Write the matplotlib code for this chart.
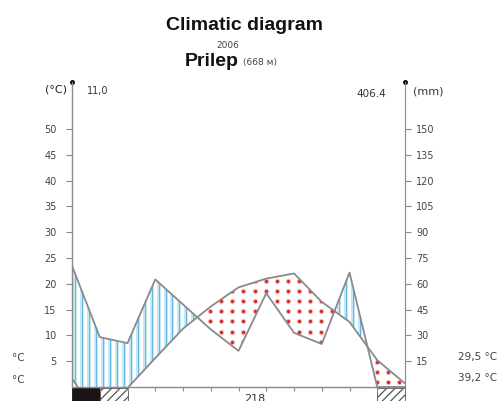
import numpy as np
import matplotlib.pyplot as plt
from matplotlib.patches import Rectangle
from matplotlib.path import Path

plt.rcParams['hatch.linewidth'] = 0.9

# values read at the month boundaries (13 points, Jan..Dec)
months = np.arange(13)
temp = np.array([1.6, -6.0, -0.2, 5.6, 11.3, 15.6, 19.3, 21.0, 22.0, 16.5, 12.6, 5.2, 0.7])
prec = np.array([70.5, 29.0, 25.5, 62.5, 48.0, 33.5, 21.0, 54.5, 31.5, 25.0, 66.5, 0.0, 0.0])
frost_months = [0]          # black box
frost_abs_months = [1, 11]  # hatched boxes
t_ticks = [5, 10, 15, 20, 25, 30, 35, 40, 45, 50]
p_ticks = [15, 30, 45, 60, 75, 90, 105, 120, 135, 150]
t_mean = "11,0"
p_total = "406.4"

ymax = 59.1
grey = '#8a8a8a'
p_sc = prec / 3.0

fig = plt.figure(figsize=(4.99, 4.01), dpi=100)
ax = fig.add_axes([72/499, 14/401, 333/499, 305/401])
ax.set_xlim(0, 12)
ax.set_ylim(0, ymax)

wet = ax.fill_between(months, temp, p_sc, where=p_sc >= temp, interpolate=True,
                      facecolor='white', edgecolor='none')
dry = ax.fill_between(months, temp, p_sc, where=temp >= p_sc, interpolate=True,
                      facecolor='white', edgecolor='none')
wet_path = Path.make_compound_path(*wet.get_paths())
dry_path = Path.make_compound_path(*dry.get_paths())

# vertical stripes for humid period
xs = np.arange(0.12, 12, 0.25)
s1 = ax.vlines(xs, -5, ymax, colors='#c4e7f6', lw=2.8)
s2 = ax.vlines(xs, -5, ymax, colors='#62b6de', lw=0.7)
for s in (s1, s2):
    s.set_clip_path(wet_path, ax.transData)

# red dots for arid period
gx, gy = np.meshgrid(np.arange(0.18, 12, 0.4), np.arange(1.0, ymax, 1.95))
d1 = ax.scatter(gx.ravel(), gy.ravel(), s=16, color='#f6caca', lw=0)
d2 = ax.scatter(gx.ravel(), gy.ravel(), s=6, color='#d42a2a', lw=0)
for d in (d1, d2):
    d.set_clip_path(dry_path, ax.transData)

ax.plot(months, temp, color=grey, lw=1.3)
ax.plot(months, p_sc, color=grey, lw=1.3)

# frost boxes under the axis
for m in frost_months:
    ax.add_patch(Rectangle((m, -4), 1, 3.8, facecolor='#1a1414', edgecolor='#1a1414',
                           lw=0.6, clip_on=False))
for m in frost_abs_months:
    ax.add_patch(Rectangle((m, -4), 1, 3.8, facecolor='white', edgecolor='#555555',
                           hatch='////', lw=0.6, clip_on=False))

ax.set_xticks(range(1, 12))
ax.tick_params(axis='x', length=3, width=0.8, color=grey, labelbottom=False)
ax.set_yticks(t_ticks)
ax.tick_params(axis='y', direction='out', length=4, width=0.8, color=grey,
               labelsize=7, labelcolor='#444444', pad=7)
for sp in ['top', 'right']:
    ax.spines[sp].set_visible(False)
for sp in ['left', 'bottom']:
    ax.spines[sp].set_color(grey)
    ax.spines[sp].set_linewidth(1.0)

ax2 = ax.twinx()
ax2.set_ylim(0, ymax * 3)
ax2.set_yticks(p_ticks)
ax2.tick_params(axis='y', direction='out', length=4, width=0.8, color=grey,
                labelsize=7, labelcolor='#444444', pad=4)
for sp in ['top', 'left', 'bottom']:
    ax2.spines[sp].set_visible(False)
ax2.spines['right'].set_color(grey)

ax.plot([0, 1], [1, 1], 'o', ms=2.5, color='black', transform=ax.transAxes, clip_on=False)

def ftext(x, y, s, **kw):
    fig.text(x / 499, 1 - y / 401, s, **kw)

ftext(245, 26, 'Climatic diagram', ha='center', va='center', fontsize=14,
      fontweight='bold', family='Liberation Sans', color='#111111')
ftext(228, 46, '2006', ha='center', va='center', fontsize=6.5, color='#444444')
ftext(212, 62, 'Prilep', ha='center', va='center', fontsize=14,
      fontweight='bold', family='Liberation Sans', color='#111111')
ftext(243, 63, '(668 м)', ha='left', va='center', fontsize=6.5, color='#444444')
ftext(67, 90, '(°C)', ha='right', va='center', fontsize=8, color='#222222')
ftext(87, 91, t_mean, ha='left', va='center', fontsize=7, color='#333333')
ftext(386, 94, p_total, ha='right', va='center', fontsize=7.5, color='#333333')
ftext(413, 91, '(mm)', ha='left', va='center', fontsize=8, color='#333333')
ftext(25, 358, '°C', ha='right', va='center', fontsize=7.5, color='#444444')
ftext(25, 380, '°C', ha='right', va='center', fontsize=7.5, color='#444444')
ftext(497, 357, '29,5 °C', ha='right', va='center', fontsize=7.5, color='#444444')
ftext(497, 378, '39,2 °C', ha='right', va='center', fontsize=7.5, color='#444444')
ftext(255, 394, '218', ha='center', va='top', fontsize=8, color='#333333')

fig.savefig('out.png', dpi=100)
